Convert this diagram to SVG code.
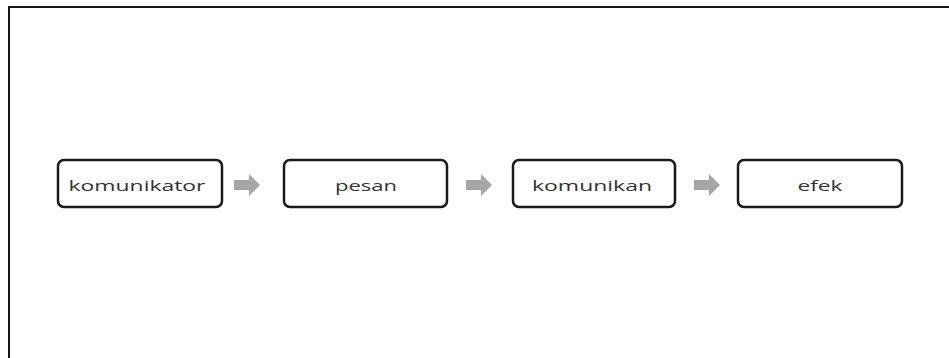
<svg xmlns="http://www.w3.org/2000/svg" width="949" height="358" viewBox="0 0 949 358">
  <defs>
    <style>
      .box { fill: #ffffff; stroke: #1a1a1a; stroke-width: 2.5; }
      .lbl { font-family: "Open Sans", "Noto Sans", "DejaVu Sans", sans-serif; font-size: 15px; fill: #333333; text-anchor: middle; dominant-baseline: central; }
      .arr { fill: #a6a6a6; }
      .frame { fill: none; stroke: #151515; stroke-width: 2; }
    </style>
    <!-- block arrow shape, origin at left end of shaft, centred vertically -->
    <path id="blockArrow" d="M0,-5 L15,-5 L15,-11 L26,0 L15,11 L15,5 L0,5 Z"/>
  </defs>

  <rect x="0" y="0" width="949" height="358" fill="#ffffff"/>

  <!-- frame: top and left edges -->
  <path class="frame" d="M9,358 L9,7 L949,7"/>

  <g id="connectors">
    <use href="#blockArrow" class="arr" x="234" y="185"/>
    <use href="#blockArrow" class="arr" x="466" y="185"/>
    <use href="#blockArrow" class="arr" x="694" y="185"/>
  </g>

  <g id="node-komunikator">
    <rect class="box" x="58" y="160" width="164" height="47" rx="6"/>
    <text class="lbl" x="137" y="185" textLength="137" lengthAdjust="spacingAndGlyphs">komunikator</text>
  </g>

  <g id="node-pesan">
    <rect class="box" x="284" y="160" width="163" height="47" rx="6"/>
    <text class="lbl" x="366" y="185" textLength="62" lengthAdjust="spacingAndGlyphs">pesan</text>
  </g>

  <g id="node-komunikan">
    <rect class="box" x="513" y="160" width="162" height="47" rx="6"/>
    <text class="lbl" x="592" y="185" textLength="120" lengthAdjust="spacingAndGlyphs">komunikan</text>
  </g>

  <g id="node-efek">
    <rect class="box" x="738" y="160" width="164" height="47" rx="6"/>
    <text class="lbl" x="820" y="185" textLength="45" lengthAdjust="spacingAndGlyphs">efek</text>
  </g>
</svg>
